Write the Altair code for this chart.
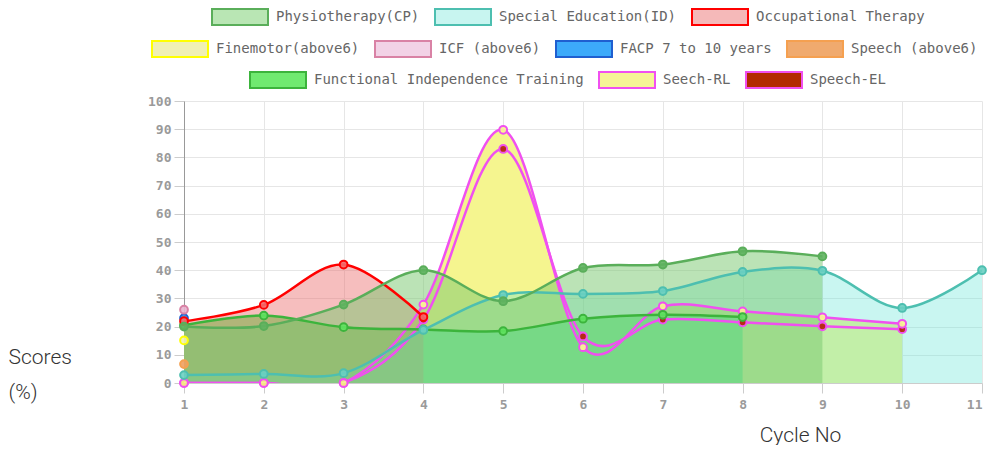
import altair as alt
import pandas as pd

# ---------------- data ----------------
cycles = [1, 2, 3, 4, 5, 6, 7, 8, 9, 10, 11]

series_names = [
    "Physiotherapy(CP)", "Special Education(ID)", "Occupational Therapy",
    "Finemotor(above6)", "ICF (above6)", "FACP 7 to 10 years", "Speech (above6)",
    "Functional Independence Training", "Seech-RL", "Speech-EL",
]

physiotherapy = [20, 20.2, 27.8, 40, 29, 40.8, 42, 46.7, 44.9]
special_education = [2.8, 3.2, 3.5, 18.8, 31.2, 31.6, 32.6, 39.4, 39.8, 26.6, 40]
occupational_therapy = [21.9, 27.7, 42, 23.4]
finemotor = [15.1]
icf = [26]
facp = [23]
speech_above6 = [6.7]
functional_independence = [20.5, 23.9, 19.8, 19, 18.4, 22.8, 24.2, 23.4]
seech_rl = [0, 0, 0, 27.8, 89.8, 12.7, 27.2, 25.4, 23.3, 21]
speech_el = [0, 0, 0, 22.5, 83, 16.5, 22.5, 21.5, 20.1, 19.1]

series_values = [physiotherapy, special_education, occupational_therapy, finemotor,
                 icf, facp, speech_above6, functional_independence, seech_rl, speech_el]

# ---------------- styles ----------------
line_colors = ["#5aae5a", "#4dbfb0", "#ff0000", "#ffff00", "#d982a5", "#1f5fd0",
               "#f5a050", "#3cb43c", "#f050f0", "#f050f0"]
area_fills = ["#78c86e", "#64e6d7", "#eb6e6e", None, None, None, None,
              "#82ee82", "#f5f58f", None]
area_opacity = [0.5, 0.35, 0.45, 0, 0, 0, 0, 1.0, 1.0, 0]
point_fills = ["#5fb35f", "#6ccfc2", "#f36a6a", "#f0f0b0", "#e8b4cf", "#3aa9f5",
               "#f0a060", "#5ee25e", "#fafa90", "#b22200"]
legend_fills = ["#b9e6b4", "#c8f5f0", "#f5b9b9", "#f0f0b4", "#f2d2e6", "#3caafa",
                "#f0aa6e", "#70ea70", "#f5f596", "#b22a00"]
legend_strokes = ["#5aae5a", "#4dbfb0", "#ff0000", "#ffff00", "#d982a5", "#1f5fd0",
                  "#f5a050", "#3cb43c", "#f050f0", "#f050f0"]

X_AXIS = alt.Axis(values=cycles, title="Cycle No", grid=True, gridColor="#e6e6e6",
                  tickColor="#cccccc", tickSize=10, domainColor="#cccccc",
                  labelFont="DejaVu Sans Mono", labelFontSize=13, labelColor="#9a9a9a",
                  labelFontWeight="bold", labelPadding=5,
                  labelAlign={"condition": {"test": "datum.value == 11", "value": "right"},
                              "value": "center"},
                  titleFont="Roboto", titleFontSize=21, titleFontWeight=300,
                  titleColor="#333333", titleX=616, titleY=52, titleAlign="center",
                  titleBaseline="middle")
Y_AXIS = alt.Axis(values=list(range(0, 101, 10)), title=["Scores", "(%)"], grid=True,
                  gridColor="#e6e6e6", tickColor="#cccccc", tickSize=10,
                  domainColor="#999999", labelFont="DejaVu Sans Mono", labelFontSize=13,
                  labelColor="#9a9a9a", labelFontWeight="bold", labelPadding=3,
                  titleFont="Roboto", titleFontSize=21, titleFontWeight=300,
                  titleColor="#333333", titleAngle=0, titleAlign="left",
                  titleBaseline="top", titleX=-176, titleY=245, titleLineHeight=35)


def xenc():
    return alt.X("cycle:Q", scale=alt.Scale(domain=[1, 11], nice=False), axis=X_AXIS)


def yenc():
    return alt.Y("value:Q", scale=alt.Scale(domain=[0, 100], nice=False), axis=Y_AXIS,
                 stack=None)


def frame(i):
    vals = series_values[i]
    return pd.DataFrame({"cycle": cycles[:len(vals)], "value": vals,
                         "series": series_names[i]})


layers = []
order = list(reversed(range(len(series_names))))
# fills first (Chart.js filler draws all fills before the datasets)
for i in order:
    if area_fills[i] is not None and len(series_values[i]) > 1:
        layers.append(alt.Chart(frame(i))
                      .mark_area(interpolate="cardinal", tension=0, clip=True,
                                 color=area_fills[i], opacity=area_opacity[i])
                      .encode(x=xenc(), y=yenc()))
# then lines and points, first dataset on top
for i in order:
    base = alt.Chart(frame(i))
    if len(series_values[i]) > 1:
        layers.append(base.mark_line(interpolate="cardinal", tension=0, clip=True,
                                     color=line_colors[i], strokeWidth=2.5)
                      .encode(x=xenc(), y=yenc()))
    layers.append(base.mark_point(filled=True, size=60, fill=point_fills[i],
                                  stroke=line_colors[i], strokeWidth=2, opacity=1,
                                  fillOpacity=0.9)
                  .encode(x=xenc(), y=yenc()))


def legend_layer(idx, field, lx, ly):
    names = [series_names[k] for k in idx]
    fills = [legend_fills[k] for k in idx]
    strokes = [legend_strokes[k] for k in idx]
    leg = alt.Legend(orient="none", legendX=lx, legendY=ly, direction="horizontal",
                     title=None, symbolType="M-3.5,-1H3.5V1H-3.5Z", symbolSize=256,
                     symbolStrokeWidth=2, symbolOpacity=1, labelFont="DejaVu Sans Mono",
                     labelFontSize=14, labelColor="#666666", labelOffset=27,
                     columnPadding=11, labelLimit=400, padding=0)
    df = pd.DataFrame({field: names})
    return (alt.Chart(df).mark_point(filled=True)
            .transform_filter("false")
            .encode(fill=alt.Fill(f"{field}:N", scale=alt.Scale(domain=names, range=fills),
                                  legend=leg),
                    stroke=alt.Stroke(f"{field}:N",
                                      scale=alt.Scale(domain=names, range=strokes),
                                      legend=leg)))


layers.append(legend_layer([0, 1, 2], "row1", 47, -93))
layers.append(legend_layer([3, 4, 5, 6], "row2", -13, -61))
layers.append(legend_layer([7, 8, 9], "row3", 85, -30))

chart = (alt.layer(*layers)
         .resolve_scale(fill="independent", stroke="independent")
         .resolve_legend(fill="independent", stroke="independent")
         .properties(width=798, height=282,
                     padding={"left": 0, "top": 0, "right": 0, "bottom": 0})
         .configure_view(stroke=None))

chart.save("out.html", embed_options={"renderer": "svg", "actions": False})
